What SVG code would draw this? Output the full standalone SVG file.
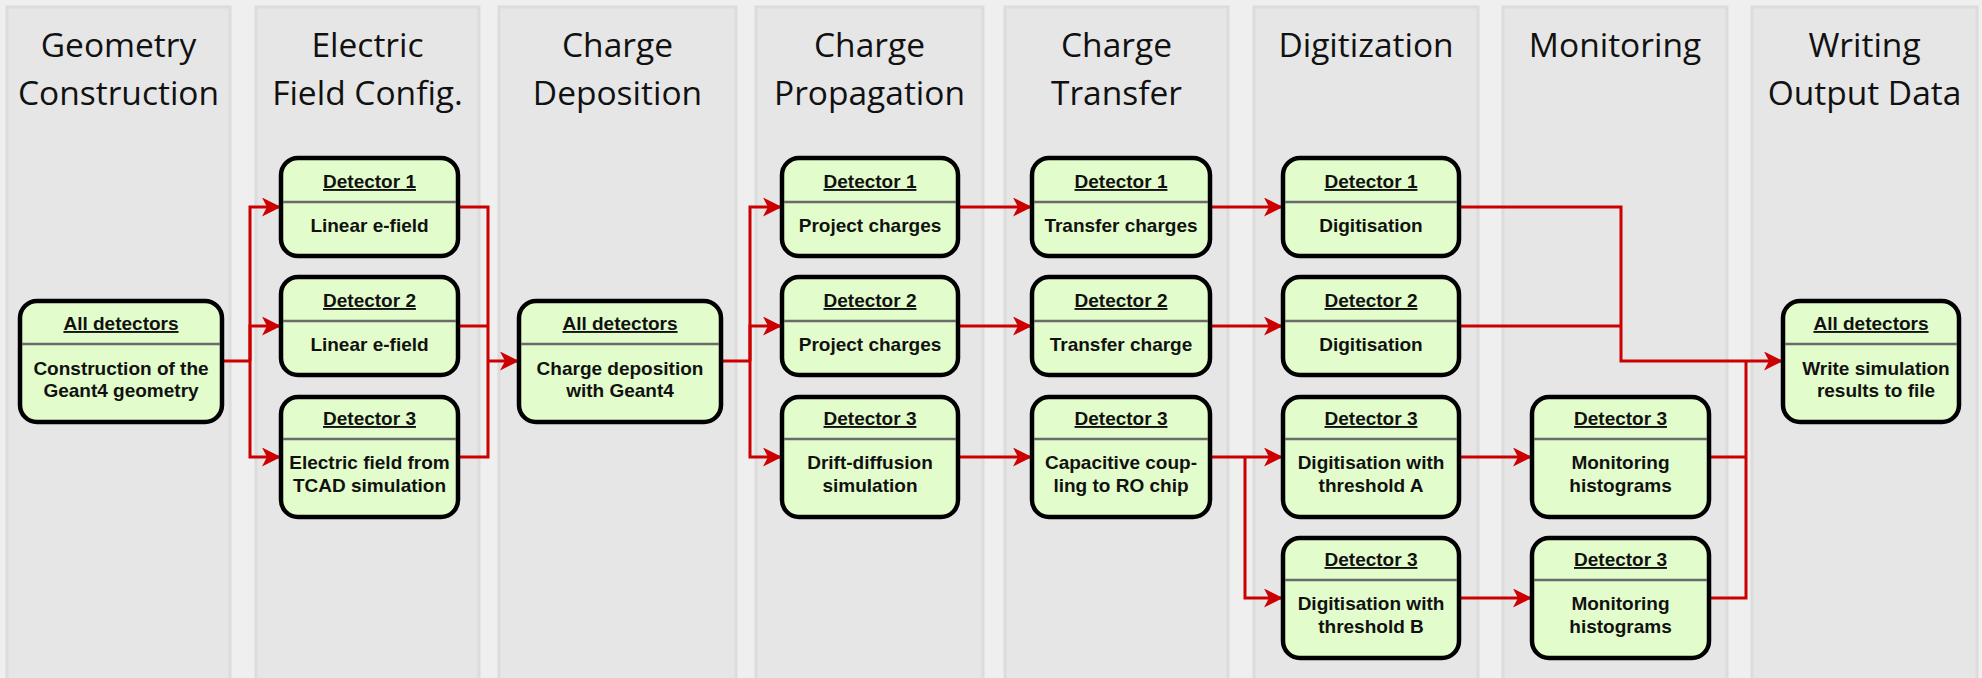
<svg xmlns="http://www.w3.org/2000/svg" width="1982" height="678" viewBox="0 0 1982 678">
<defs>
<style>
.col{fill:#e6e6e6;stroke:#dcdcdc;stroke-width:3}
.hdr{font-family:"Open Sans","DejaVu Sans",sans-serif;font-size:33.5px;fill:#111;text-anchor:middle}
.box{fill:#e2fccb;stroke:#000;stroke-width:4.5}
.div{stroke:#6a6a6a;stroke-width:2.5}
.ttl{font-family:"Liberation Sans",Arial,sans-serif;font-weight:bold;font-size:19px;fill:#111;text-anchor:middle;text-decoration:underline}
.txt{font-family:"Liberation Sans",Arial,sans-serif;font-weight:bold;font-size:19px;fill:#111;text-anchor:middle}
.con{fill:none;stroke:#cc0000;stroke-width:3}
.arr{marker-end:url(#ah)}
</style>
<marker id="ah" markerUnits="userSpaceOnUse" markerWidth="20" markerHeight="20" refX="19" refY="9.5" orient="auto">
<path d="M0,0 L19,9.5 L0,19 L5,9.5 z" fill="#cc0000"/>
</marker>
</defs>
<rect x="0" y="0" width="1982" height="678" fill="#efefef"/>
<g id="columns">
<rect class="col" x="7" y="7" width="223" height="674"/>
<rect class="col" x="256" y="7" width="223" height="674"/>
<rect class="col" x="499" y="7" width="237" height="674"/>
<rect class="col" x="756" y="7" width="227" height="674"/>
<rect class="col" x="1005" y="7" width="223" height="674"/>
<rect class="col" x="1254" y="7" width="224" height="674"/>
<rect class="col" x="1503" y="7" width="224" height="674"/>
<rect class="col" x="1752" y="7" width="225" height="674"/>
<text class="hdr" x="118.5" y="57">Geometry</text>
<text class="hdr" x="118.5" y="105">Construction</text>
<text class="hdr" x="367.5" y="57">Electric</text>
<text class="hdr" x="367.5" y="105">Field Config.</text>
<text class="hdr" x="617.5" y="57">Charge</text>
<text class="hdr" x="617.5" y="105">Deposition</text>
<text class="hdr" x="869.5" y="57">Charge</text>
<text class="hdr" x="869.5" y="105">Propagation</text>
<text class="hdr" x="1116.5" y="57">Charge</text>
<text class="hdr" x="1116.5" y="105">Transfer</text>
<text class="hdr" x="1366" y="57">Digitization</text>
<text class="hdr" x="1615" y="57">Monitoring</text>
<text class="hdr" x="1864.5" y="57">Writing</text>
<text class="hdr" x="1864.5" y="105">Output Data</text>
</g>
<g id="connectors">
<path class="con" d="M222,361 H250"/>
<path class="con arr" d="M250,361 V207 H281"/>
<path class="con arr" d="M250,361 V326 H281"/>
<path class="con arr" d="M250,361 V457 H281"/>
<path class="con" d="M458,207 H488 V457 H458"/>
<path class="con" d="M458,326 H488"/>
<path class="con arr" d="M488,361 H519"/>
<path class="con" d="M721,361 H750"/>
<path class="con arr" d="M750,361 V207 H782"/>
<path class="con arr" d="M750,361 V326 H782"/>
<path class="con arr" d="M750,361 V457 H782"/>
<path class="con arr" d="M958,207 H1032"/>
<path class="con arr" d="M958,326 H1032"/>
<path class="con arr" d="M958,457 H1032"/>
<path class="con arr" d="M1210,207 H1283"/>
<path class="con arr" d="M1210,326 H1283"/>
<path class="con arr" d="M1210,457 H1283"/>
<path class="con arr" d="M1245,457 V598 H1283"/>
<path class="con arr" d="M1459,457 H1532"/>
<path class="con arr" d="M1459,598 H1532"/>
<path class="con arr" d="M1459,207 H1621 V361 H1783"/>
<path class="con" d="M1459,326 H1621"/>
<path class="con" d="M1709,457 H1746"/>
<path class="con" d="M1709,598 H1746 V361"/>
</g>
<g id="n1">
<rect class="box" x="20" y="301" width="202" height="121" rx="17"/>
<line class="div" x1="22" y1="344" x2="220" y2="344"/>
<text class="ttl" x="121" y="330">All detectors</text>
<text class="txt" x="121" y="375">Construction of the</text>
<text class="txt" x="121" y="397">Geant4 geometry</text>
</g>
<g id="n2a">
<rect class="box" x="281" y="158" width="177" height="98" rx="17"/>
<line class="div" x1="283" y1="202" x2="456" y2="202"/>
<text class="ttl" x="369.5" y="188">Detector 1</text>
<text class="txt" x="369.5" y="232">Linear e-field</text>
</g>
<g id="n2b">
<rect class="box" x="281" y="277" width="177" height="98" rx="17"/>
<line class="div" x1="283" y1="321" x2="456" y2="321"/>
<text class="ttl" x="369.5" y="307">Detector 2</text>
<text class="txt" x="369.5" y="351">Linear e-field</text>
</g>
<g id="n2c">
<rect class="box" x="281" y="397" width="177" height="120" rx="17"/>
<line class="div" x1="283" y1="439" x2="456" y2="439"/>
<text class="ttl" x="369.5" y="425">Detector 3</text>
<text class="txt" x="369.5" y="469">Electric field from</text>
<text class="txt" x="369.5" y="492">TCAD simulation</text>
</g>
<g id="n3">
<rect class="box" x="519" y="301" width="202" height="121" rx="17"/>
<line class="div" x1="521" y1="344" x2="719" y2="344"/>
<text class="ttl" x="620" y="330">All detectors</text>
<text class="txt" x="620" y="375">Charge deposition</text>
<text class="txt" x="620" y="397">with Geant4</text>
</g>
<g id="n4a">
<rect class="box" x="782" y="158" width="176" height="98" rx="17"/>
<line class="div" x1="784" y1="202" x2="956" y2="202"/>
<text class="ttl" x="870" y="188">Detector 1</text>
<text class="txt" x="870" y="232">Project charges</text>
</g>
<g id="n4b">
<rect class="box" x="782" y="277" width="176" height="98" rx="17"/>
<line class="div" x1="784" y1="321" x2="956" y2="321"/>
<text class="ttl" x="870" y="307">Detector 2</text>
<text class="txt" x="870" y="351">Project charges</text>
</g>
<g id="n4c">
<rect class="box" x="782" y="397" width="176" height="120" rx="17"/>
<line class="div" x1="784" y1="439" x2="956" y2="439"/>
<text class="ttl" x="870" y="425">Detector 3</text>
<text class="txt" x="870" y="469">Drift-diffusion</text>
<text class="txt" x="870" y="492">simulation</text>
</g>
<g id="n5a">
<rect class="box" x="1032" y="158" width="178" height="98" rx="17"/>
<line class="div" x1="1034" y1="202" x2="1208" y2="202"/>
<text class="ttl" x="1121" y="188">Detector 1</text>
<text class="txt" x="1121" y="232">Transfer charges</text>
</g>
<g id="n5b">
<rect class="box" x="1032" y="277" width="178" height="98" rx="17"/>
<line class="div" x1="1034" y1="321" x2="1208" y2="321"/>
<text class="ttl" x="1121" y="307">Detector 2</text>
<text class="txt" x="1121" y="351">Transfer charge</text>
</g>
<g id="n5c">
<rect class="box" x="1032" y="397" width="178" height="120" rx="17"/>
<line class="div" x1="1034" y1="439" x2="1208" y2="439"/>
<text class="ttl" x="1121" y="425">Detector 3</text>
<text class="txt" x="1121" y="469">Capacitive coup-</text>
<text class="txt" x="1121" y="492">ling to RO chip</text>
</g>
<g id="n6a">
<rect class="box" x="1283" y="158" width="176" height="98" rx="17"/>
<line class="div" x1="1285" y1="202" x2="1457" y2="202"/>
<text class="ttl" x="1371" y="188">Detector 1</text>
<text class="txt" x="1371" y="232">Digitisation</text>
</g>
<g id="n6b">
<rect class="box" x="1283" y="277" width="176" height="98" rx="17"/>
<line class="div" x1="1285" y1="321" x2="1457" y2="321"/>
<text class="ttl" x="1371" y="307">Detector 2</text>
<text class="txt" x="1371" y="351">Digitisation</text>
</g>
<g id="n6c">
<rect class="box" x="1283" y="397" width="176" height="120" rx="17"/>
<line class="div" x1="1285" y1="439" x2="1457" y2="439"/>
<text class="ttl" x="1371" y="425">Detector 3</text>
<text class="txt" x="1371" y="469">Digitisation with</text>
<text class="txt" x="1371" y="492">threshold A</text>
</g>
<g id="n6d">
<rect class="box" x="1283" y="538" width="176" height="120" rx="17"/>
<line class="div" x1="1285" y1="580" x2="1457" y2="580"/>
<text class="ttl" x="1371" y="566">Detector 3</text>
<text class="txt" x="1371" y="610">Digitisation with</text>
<text class="txt" x="1371" y="633">threshold B</text>
</g>
<g id="n7a">
<rect class="box" x="1532" y="397" width="177" height="120" rx="17"/>
<line class="div" x1="1534" y1="439" x2="1707" y2="439"/>
<text class="ttl" x="1620.5" y="425">Detector 3</text>
<text class="txt" x="1620.5" y="469">Monitoring</text>
<text class="txt" x="1620.5" y="492">histograms</text>
</g>
<g id="n7b">
<rect class="box" x="1532" y="538" width="177" height="120" rx="17"/>
<line class="div" x1="1534" y1="580" x2="1707" y2="580"/>
<text class="ttl" x="1620.5" y="566">Detector 3</text>
<text class="txt" x="1620.5" y="610">Monitoring</text>
<text class="txt" x="1620.5" y="633">histograms</text>
</g>
<g id="n8">
<rect class="box" x="1783" y="301" width="176" height="121" rx="17"/>
<line class="div" x1="1785" y1="344" x2="1957" y2="344"/>
<text class="ttl" x="1871" y="330">All detectors</text>
<text class="txt" x="1876" y="375">Write simulation</text>
<text class="txt" x="1876" y="397">results to file</text>
</g>
</svg>
